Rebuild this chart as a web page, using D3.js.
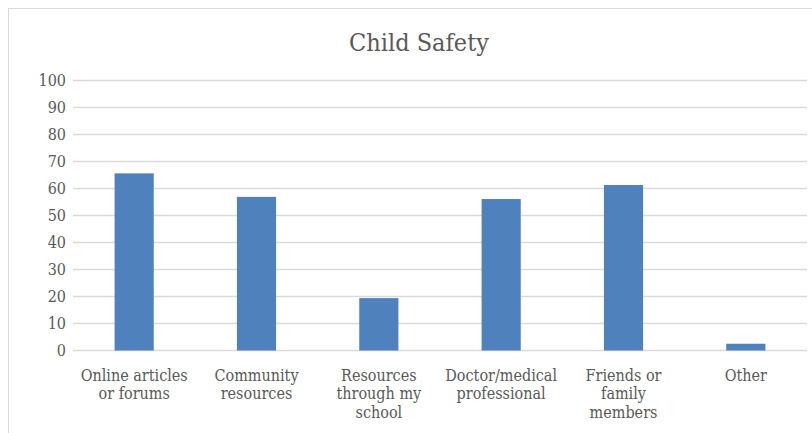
<!DOCTYPE html>
<html><head><meta charset="utf-8">
<script src="https://cdn.jsdelivr.net/npm/d3@7"></script>
<style>body{margin:0;background:#fff}svg{display:block}text{font-stretch:condensed}</style>
</head><body>
<script>
const categories = [["Online articles","or forums"],["Community","resources"],["Resources","through my","school"],["Doctor/medical","professional"],["Friends or","family","members"],["Other"]];
const values = [65.6, 56.9, 19.4, 56.1, 61.3, 2.5];
const yTicks = [0,10,20,30,40,50,60,70,80,90,100];
const title = "Child Safety";

const W=812,H=433;
const svg=d3.select("body").append("svg").attr("width",W).attr("height",H);
svg.append("rect").attr("x",8.5).attr("y",8.5).attr("width",W).attr("height",H).attr("fill","#fff").attr("stroke","#d9d9d9");
const font="'DejaVu Serif Condensed','DejaVu Serif',serif";
const x=d3.scaleBand().domain(d3.range(categories.length)).range([73,807]).padding(0);
const y=d3.scaleLinear().domain([0,100]).range([350.5,80.5]);
const g=svg.append("g");
g.selectAll("line.grid").data(yTicks).join("line").attr("x1",73).attr("x2",807)
 .attr("y1",d=>y(d)).attr("y2",d=>y(d)).attr("stroke","#d9d9d9").attr("stroke-width",1.3);
g.selectAll("text.yt").data(yTicks).join("text").attr("x",66).attr("y",d=>y(d)+5.5)
 .attr("text-anchor","end").attr("font-family",font).attr("font-size",16).attr("fill","#595959").text(d=>d);
const bw=x.bandwidth()*0.32;
g.selectAll("rect.bar").data(values).join("rect")
 .attr("x",(d,i)=>x(i)+x.bandwidth()/2-bw/2).attr("width",bw)
 .attr("y",d=>y(d)).attr("height",d=>y(0)-y(d)).attr("fill","#4f81bd");
const lab=g.selectAll("text.xl").data(categories).join("text")
 .attr("font-family",font).attr("font-size",16).attr("fill","#595959").attr("text-anchor","middle");
lab.each(function(d,i){
 d3.select(this).selectAll("tspan").data(d).join("tspan").attr("x",x(i)+x.bandwidth()/2)
  .attr("y",(t,j)=>380.5+j*18.5).text(t=>t);
});
svg.append("text").attr("x",419).attr("y",51).attr("text-anchor","middle").attr("font-family",font)
 .attr("font-size",25).attr("fill","#595959").text(title);
</script>
</body></html>
